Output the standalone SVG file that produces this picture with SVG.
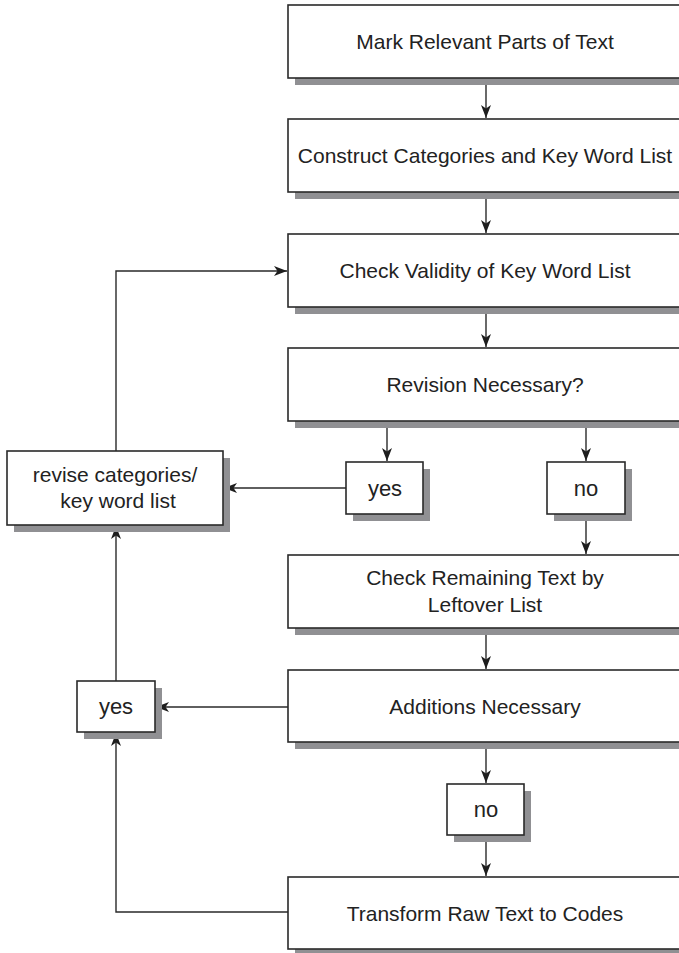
<svg xmlns="http://www.w3.org/2000/svg" width="679" height="953" viewBox="0 0 679 953">
<defs>
<style>
.shadow{fill:#909093;stroke:none}
.box{fill:#fff;stroke:#2a2a2a;stroke-width:1.6}
.lbl{font-family:"Liberation Sans",Arial,sans-serif;font-size:21px;fill:#222;text-anchor:middle}
.sm{font-size:22px}
.con{fill:none;stroke:#2a2a2a;stroke-width:1.4;marker-end:url(#ah)}
.plain{fill:none;stroke:#2a2a2a;stroke-width:1.4}
</style>
<marker id="ah" markerUnits="userSpaceOnUse" markerWidth="14" markerHeight="12" viewBox="-13 -6 14 12" refX="0" refY="0" orient="auto">
<path d="M0,0 L-13,-5 L-9.5,0 L-13,5 Z" fill="#1e1e1e"/>
</marker>
</defs>
<rect width="679" height="953" fill="#fff"/>

<g id="connectors">
<path class="con" d="M486,78 V118"/>
<path class="con" d="M486,192 V233"/>
<path class="con" d="M486,307 V347"/>
<path class="con" d="M387,421 V461"/>
<path class="con" d="M586,421 V461"/>
<path class="con" d="M586,514 V554"/>
<path class="con" d="M346,488 H224"/>
<path class="con" d="M116,451 V271 H287"/>
<path class="con" d="M486,628 V669"/>
<path class="con" d="M288,707 H156"/>
<path class="con" d="M116,681 V526"/>
<path class="con" d="M486,742 V783"/>
<path class="con" d="M486,835 V876"/>
<path class="con" d="M288,912 H116 V733"/>
</g>

<g id="n1">
<rect class="shadow" x="295" y="12" width="400" height="73"/>
<rect class="box" x="288" y="5" width="400" height="73"/>
<text class="lbl" x="485" y="49">Mark Relevant Parts of Text</text>
</g>
<g id="n2">
<rect class="shadow" x="295" y="126" width="400" height="73"/>
<rect class="box" x="288" y="119" width="400" height="73"/>
<text class="lbl" x="485" y="163">Construct Categories and Key Word List</text>
</g>
<g id="n3">
<rect class="shadow" x="295" y="241" width="400" height="73"/>
<rect class="box" x="288" y="234" width="400" height="73"/>
<text class="lbl" x="485" y="278">Check Validity of Key Word List</text>
</g>
<g id="n4">
<rect class="shadow" x="295" y="355" width="400" height="73"/>
<rect class="box" x="288" y="348" width="400" height="73"/>
<text class="lbl" x="485" y="392">Revision Necessary?</text>
</g>
<g id="n5">
<rect class="shadow" x="353" y="469" width="77" height="52"/>
<rect class="box" x="346" y="462" width="77" height="52"/>
<text class="lbl sm" x="385" y="496">yes</text>
</g>
<g id="n6">
<rect class="shadow" x="554" y="469" width="78" height="52"/>
<rect class="box" x="547" y="462" width="78" height="52"/>
<text class="lbl sm" x="586" y="496">no</text>
</g>
<g id="n7">
<rect class="shadow" x="14" y="458" width="216" height="74"/>
<rect class="box" x="7" y="451" width="216" height="74"/>
<text class="lbl" x="115" y="482">revise categories/</text>
<text class="lbl" x="118" y="508">key word list</text>
</g>
<g id="n8">
<rect class="shadow" x="295" y="562" width="400" height="73"/>
<rect class="box" x="288" y="555" width="400" height="73"/>
<text class="lbl" x="485" y="585">Check Remaining Text by</text>
<text class="lbl" x="485" y="612">Leftover List</text>
</g>
<g id="n9">
<rect class="shadow" x="295" y="677" width="400" height="72"/>
<rect class="box" x="288" y="670" width="400" height="72"/>
<text class="lbl" x="485" y="713.5">Additions Necessary</text>
</g>
<g id="n10">
<rect class="shadow" x="84" y="688" width="78" height="51"/>
<rect class="box" x="77" y="681" width="78" height="51"/>
<text class="lbl sm" x="116" y="714">yes</text>
</g>
<g id="n11">
<rect class="shadow" x="454" y="791" width="77" height="51"/>
<rect class="box" x="447" y="784" width="77" height="51"/>
<text class="lbl sm" x="486" y="817">no</text>
</g>
<g id="n12">
<rect class="shadow" x="295" y="884" width="400" height="72"/>
<rect class="box" x="288" y="877" width="400" height="72"/>
<text class="lbl" x="485" y="920.5">Transform Raw Text to Codes</text>
</g>
</svg>
